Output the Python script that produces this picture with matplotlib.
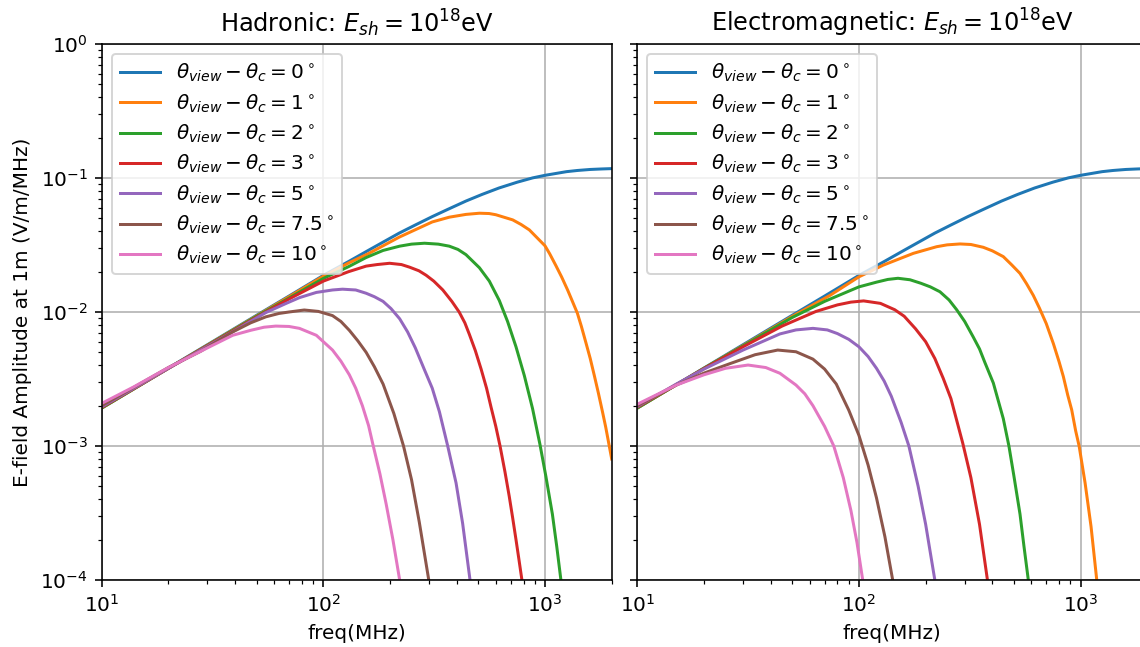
import matplotlib
matplotlib.use('Agg')
import matplotlib.pyplot as plt

# offset of the viewing angle from the Cherenkov angle, in degrees
angles = ['0', '1', '2', '3', '5', '7.5', '10']

# on-cone spectrum (0 deg), reads the same in both panels
f_cone = [10, 15, 20, 30, 50, 70, 100, 130, 160, 220, 260, 310, 360, 440, 520, 620, 750, 880, 1000,
          1250, 1400, 1600, 1800, 2000]
a_cone = [1.92e-3, 2.87e-3, 3.82e-3, 5.70e-3, 9.45e-3, 1.315e-2, 1.875e-2, 2.38e-2, 2.89e-2,
          3.88e-2, 4.46e-2, 5.15e-2, 5.78e-2, 6.73e-2, 7.54e-2, 8.42e-2, 9.31e-2, 1.002e-1,
          1.047e-1, 1.115e-1, 1.138e-1, 1.158e-1, 1.168e-1, 1.175e-1]

# hadronic shower
had_f1 = [10, 20, 30, 50, 70, 100, 130, 160, 220, 310, 370, 440, 506, 560, 600, 715, 780, 850,
          1000, 1050, 1120, 1190, 1265, 1330, 1400, 1460, 1530, 1600, 1670, 1740, 1820, 1880,
          1950, 2000]
had_a1 = [1.92e-3, 3.80e-3, 5.66e-3, 9.35e-3, 1.30e-2, 1.85e-2, 2.32e-2, 2.73e-2, 3.62e-2, 4.70e-2,
          5.10e-2, 5.35e-2, 5.46e-2, 5.43e-2, 5.32e-2, 4.87e-2, 4.50e-2, 4.10e-2, 3.12e-2, 2.72e-2,
          2.22e-2, 1.82e-2, 1.46e-2, 1.20e-2, 9.8e-3, 7.8e-3, 5.9e-3, 4.5e-3, 3.35e-3, 2.5e-3,
          1.78e-3, 1.38e-3, 1.0e-3, 8.0e-4]
had_f2 = [10, 20, 30, 50, 70, 100, 130, 156, 186, 221, 250, 286, 330, 370, 405, 440, 506, 561,
          622, 678, 740, 807, 879, 950, 1010, 1080, 1130, 1180, 1230]
had_a2 = [1.92e-3, 3.80e-3, 5.63e-3, 9.28e-3, 1.27e-2, 1.78e-2, 2.18e-2, 2.55e-2, 2.88e-2, 3.10e-2,
          3.21e-2, 3.26e-2, 3.21e-2, 3.10e-2, 2.93e-2, 2.68e-2, 2.14e-2, 1.70e-2, 1.22e-2, 8.5e-3,
          5.5e-3, 3.35e-3, 1.9e-3, 1.02e-3, 5.9e-4, 3.1e-4, 1.78e-4, 1.0e-4, 5.5e-5]
had_f3 = [10, 20, 30, 50, 70, 100, 130, 156, 175, 199, 225, 245, 270, 291, 315, 346, 380, 410,
          435, 456, 485, 515, 545, 571, 600, 627, 660, 690, 715, 740, 765, 787, 830]
had_a3 = [1.94e-3, 3.80e-3, 5.60e-3, 9.15e-3, 1.25e-2, 1.70e-2, 2.00e-2, 2.20e-2, 2.26e-2, 2.31e-2,
          2.26e-2, 2.16e-2, 2.03e-2, 1.88e-2, 1.70e-2, 1.46e-2, 1.20e-2, 1.0e-2, 8.3e-3, 6.8e-3,
          5.15e-3, 3.75e-3, 2.7e-3, 1.95e-3, 1.4e-3, 1.0e-3, 6.4e-4, 4.2e-4, 2.9e-4, 2.0e-4,
          1.38e-4, 1.0e-4, 4.5e-5]
had_f5 = [10, 20, 30, 40, 55, 68, 78, 93, 110, 122, 140, 156, 170, 186, 202, 221, 240, 260, 286,
          310, 334, 364, 397, 425, 459, 480]
had_a5 = [1.96e-3, 3.80e-3, 5.55e-3, 7.30e-3, 9.9e-3, 1.16e-2, 1.28e-2, 1.40e-2, 1.46e-2, 1.48e-2,
          1.46e-2, 1.38e-2, 1.30e-2, 1.20e-2, 1.06e-2, 8.9e-3, 7.1e-3, 5.4e-3, 3.7e-3, 2.7e-3,
          1.8e-3, 1.0e-3, 5.3e-4, 2.65e-4, 1.0e-4, 5.5e-5]
had_f75 = [10, 20, 28, 39, 47, 55, 63, 70, 82, 95, 110, 120, 131, 143, 156, 170, 186, 208, 230,
           250, 271, 299, 320]
had_a75 = [2.0e-3, 3.85e-3, 5.1e-3, 7.1e-3, 8.3e-3, 9.2e-3, 9.75e-3, 1.0e-2, 1.035e-2, 1.01e-2,
           9.4e-3, 8.5e-3, 7.3e-3, 6.1e-3, 5.0e-3, 3.9e-3, 2.9e-3, 1.75e-3, 1.0e-3, 5.6e-4, 2.7e-4,
           1.0e-4, 4.5e-5]
had_f10 = [10, 14, 20, 28, 39, 47, 54, 61, 70, 78, 93, 110, 120, 131, 140, 150, 160, 168, 180,
           192, 206, 221, 235]
had_a10 = [2.08e-3, 2.77e-3, 3.85e-3, 5.1e-3, 6.7e-3, 7.3e-3, 7.7e-3, 7.85e-3, 7.8e-3, 7.55e-3,
           6.7e-3, 5.2e-3, 4.3e-3, 3.4e-3, 2.7e-3, 2.0e-3, 1.42e-3, 1.0e-3, 6.2e-4, 3.7e-4, 2.0e-4,
           1.0e-4, 4.5e-5]

# electromagnetic shower
em_f1 = [10, 20, 30, 50, 74, 100, 129, 176, 224, 250, 286, 320, 364, 400, 448, 490, 533, 570,
         612, 652, 700, 754, 800, 836, 875, 912, 950, 985, 1048, 1115, 1183, 1230]
em_a1 = [1.92e-3, 3.80e-3, 5.62e-3, 9.28e-3, 1.33e-2, 1.83e-2, 2.24e-2, 2.74e-2, 3.07e-2, 3.17e-2,
         3.22e-2, 3.19e-2, 3.04e-2, 2.86e-2, 2.59e-2, 2.24e-2, 1.94e-2, 1.63e-2, 1.33e-2, 1.07e-2,
         8.2e-3, 5.8e-3, 4.25e-3, 3.3e-3, 2.4e-3, 1.86e-3, 1.3e-3, 1.0e-3, 5.3e-4, 2.5e-4, 1.0e-4,
         5.0e-5]
em_f2 = [10, 20, 30, 50, 70, 100, 120, 135, 150, 170, 190, 210, 232, 255, 276, 300, 328, 350, 370,
         404, 448, 475, 500, 533, 555, 581, 610]
em_a2 = [1.92e-3, 3.80e-3, 5.58e-3, 9.1e-3, 1.20e-2, 1.54e-2, 1.67e-2, 1.75e-2, 1.785e-2, 1.74e-2,
         1.64e-2, 1.54e-2, 1.416e-2, 1.23e-2, 1.04e-2, 8.5e-3, 6.5e-3, 5.3e-3, 4.2e-3, 2.95e-3,
         1.6e-3, 1.0e-3, 6.0e-4, 3.1e-4, 1.8e-4, 1.0e-4, 5.0e-5]
em_f3 = [10, 20, 30, 45, 64, 80, 92, 105, 125, 145, 160, 180, 200, 220, 240, 260, 294, 320, 350,
         380, 400]
em_a3 = [1.95e-3, 3.78e-3, 5.5e-3, 7.85e-3, 1.01e-2, 1.13e-2, 1.185e-2, 1.21e-2, 1.16e-2, 1.04e-2,
         9.3e-3, 7.5e-3, 6.0e-3, 4.5e-3, 3.2e-3, 2.26e-3, 1.05e-3, 5.8e-4, 2.6e-4, 1.0e-4, 5.0e-5]
em_f5 = [10, 15, 20, 30, 44, 52, 62, 72, 80, 90, 100, 110, 120, 130, 140, 155, 168, 185, 200,
         220, 230]
em_a5 = [1.97e-3, 2.9e-3, 3.75e-3, 5.2e-3, 6.86e-3, 7.35e-3, 7.55e-3, 7.35e-3, 6.9e-3, 6.25e-3,
         5.5e-3, 4.65e-3, 3.8e-3, 3.05e-3, 2.35e-3, 1.5e-3, 1.0e-3, 5.0e-4, 2.6e-4, 1.0e-4,
         6.0e-5]
em_f75 = [10, 15, 20, 26, 34, 43, 52, 62, 70, 79, 90, 100, 110, 120, 131, 142, 150]
em_a75 = [2.0e-3, 2.85e-3, 3.5e-3, 4.1e-3, 4.8e-3, 5.2e-3, 5.05e-3, 4.45e-3, 3.75e-3, 2.9e-3,
          1.85e-3, 1.2e-3, 7.2e-4, 4.1e-4, 2.1e-4, 1.0e-4, 5.5e-5]
em_f10 = [10, 15, 20, 25, 31.6, 38, 44, 52, 57, 62, 70, 77, 85, 92, 98, 104, 110]
em_a10 = [2.05e-3, 2.85e-3, 3.4e-3, 3.8e-3, 4.02e-3, 3.85e-3, 3.49e-3, 2.85e-3, 2.45e-3, 2.0e-3,
          1.4e-3, 1.0e-3, 5.8e-4, 3.3e-4, 1.9e-4, 1.0e-4, 4.5e-5]

hadronic = [(f_cone, a_cone), (had_f1, had_a1), (had_f2, had_a2), (had_f3, had_a3),
            (had_f5, had_a5), (had_f75, had_a75), (had_f10, had_a10)]
electromagnetic = [(f_cone, a_cone), (em_f1, em_a1), (em_f2, em_a2), (em_f3, em_a3),
                   (em_f5, em_a5), (em_f75, em_a75), (em_f10, em_a10)]

W, H, DPI = 1140, 647, 144
fig = plt.figure(figsize=(W / DPI, H / DPI), dpi=DPI)
# the right panel runs a little past the edge of the picture, as in the original
ax1 = fig.add_axes([101.7 / W, 67 / H, 510 / W, 536 / H])
ax2 = fig.add_axes([637.3 / W, 67 / H, 510 / W, 536 / H], sharey=ax1)

for ax, curves, name in [(ax1, hadronic, 'Hadronic'), (ax2, electromagnetic, 'Electromagnetic')]:
    for (f, a), ang in zip(curves, angles):
        ax.plot(f, a, label=r'$\theta_{view} - \theta_c = %s^\circ$' % ang)
    ax.set_xscale('log')
    ax.set_yscale('log')
    ax.set_xlim(10, 2000)
    ax.set_ylim(1e-4, 1)
    ax.grid(True)
    ax.legend(loc='upper left', labelspacing=0.4)
    ax.set_title(name + r': $E_{sh}=10^{18}$eV')
    ax.set_xlabel('freq(MHz)')

ax1.set_ylabel('E-field Amplitude at 1m (V/m/MHz)')
ax2.tick_params(labelleft=False)

fig.savefig('out.png', dpi=DPI)
